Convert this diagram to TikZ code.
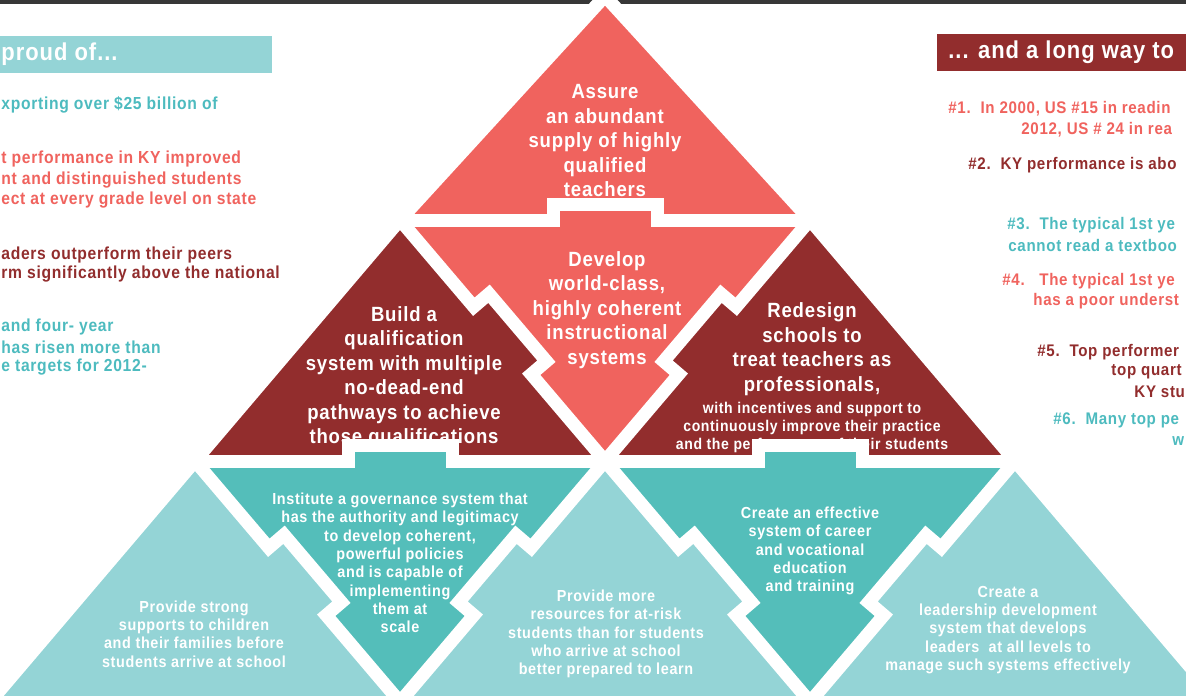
\documentclass[tikz,border=0pt]{standalone}
\usepackage{fontspec}
\newfontfamily\condfont{Liberation Sans}[FakeStretch=0.9, LetterSpace=4]
\usetikzlibrary{calc}

\definecolor{coral}{RGB}{240,99,94}
\definecolor{wine}{RGB}{146,45,45}
\definecolor{tealdk}{RGB}{84,190,186}
\definecolor{teallt}{RGB}{148,212,214}
\definecolor{tealtx}{RGB}{77,187,191}
\definecolor{barcol}{RGB}{55,55,55}

\tikzset{
  whitegap/.style={draw=white, line width=6.5pt, line cap=round},
  tabpatch/.style={line width=1.5pt},
  bigtxt/.style={text=white, align=center, inner sep=0pt,
    font=\condfont\bfseries\fontsize{10.3}{12.25}\selectfont},
  smalltxt/.style={text=white, align=center, inner sep=0pt,
    font=\condfont\bfseries\fontsize{8}{9.15}\selectfont},
  sidetxt/.style={anchor=west, inner sep=0pt,
    font=\condfont\bfseries\fontsize{8.7}{10.25}\selectfont},
  righttxt/.style={anchor=west, inner sep=0pt,
    font=\condfont\bfseries\fontsize{8.4}{10.25}\selectfont},
  headtxt/.style={anchor=west, inner sep=0pt, text=white,
    font=\condfont\bfseries\fontsize{12.2}{13}\selectfont}
}

\begin{document}
\begin{tikzpicture}[x=0.5pt, y=-0.5pt]
\useasboundingbox (0,0) rectangle (1186,695);
\clip (0,0) rectangle (1186,695);
\fill[white] (0,0) rectangle (1186,695);
\fill[barcol] (0,0) rectangle (1186,4);

% lattice points
\coordinate (top) at (605,-4);
\coordinate (p1) at (400,220);
\coordinate (q1) at (810,220);
\coordinate (p2) at (195,461);
\coordinate (q2) at (605,461);
\coordinate (r2) at (1015,461);
\coordinate (p3) at (-10,702);
\coordinate (q3) at (400,702);
\coordinate (r3) at (810,702);
\coordinate (s3) at (1220,702);

% pieces
\fill[coral] (top) -- (q1) -- (p1) -- cycle;
\fill[wine] (p1) -- (q2) -- (p2) -- cycle;
\fill[coral] (p1) -- (q1) -- (q2) -- cycle;
\fill[wine] (q1) -- (r2) -- (q2) -- cycle;
\fill[teallt] (p2) -- (q3) -- (p3) -- cycle;
\fill[tealdk] (p2) -- (q2) -- (q3) -- cycle;
\fill[teallt] (q2) -- (r3) -- (q3) -- cycle;
\fill[tealdk] (q2) -- (r2) -- (r3) -- cycle;
\fill[teallt] (r2) -- (s3) -- (r3) -- cycle;

% tabs on the flat edges
\filldraw[coral, tabpatch] (553,204) rectangle (657,222);
\filldraw[tealdk, tabpatch] (348,445) rectangle (452,463);
\filldraw[tealdk, tabpatch] (758,445) rectangle (862,463);

% tabs on the sloping edges
\foreach \a/\b/\dx/\col in {p1/q2/15.2/wine, p2/q3/15.2/teallt, q2/r3/15.2/teallt,
    q1/q2/-15.2/wine, q2/q3/-15.2/teallt, r2/r3/-15.2/teallt}{
  \filldraw[\col, tabpatch] ($(\a)!.36!(\b)$) -- ($(\a)!.36!(\b)+(\dx,-13)$)
    -- ($(\a)!.64!(\b)+(\dx,-13)$) -- ($(\a)!.64!(\b)$) -- cycle;
  \draw[whitegap] (\a) -- ($(\a)!.36!(\b)$) -- ($(\a)!.36!(\b)+(\dx,-13)$)
    -- ($(\a)!.64!(\b)+(\dx,-13)$) -- ($(\a)!.64!(\b)$) -- (\b);
}

% white gaps
\draw[whitegap] (p1) -- (553,220) -- (553,204) -- (657,204) -- (657,220) -- (q1);
\draw[whitegap] (p2) -- (348,461) -- (348,445) -- (452,445) -- (452,461) -- (q2);
\draw[whitegap] (q2) -- (758,461) -- (758,445) -- (862,445) -- (862,461) -- (r2);
\draw[whitegap] (p3) -- (p2) -- (p1) -- (top) -- (q1) -- (r2) -- (s3);

% texts in the pyramid
\node[bigtxt] (assure) at (605,141) {Assure\\an abundant\\supply of highly\\qualified\\teachers};
\node[bigtxt] (develop) at (607,310) {Develop\\world-class,\\highly coherent\\instructional\\systems};
\node[bigtxt] (build) at (404,377) {Build a\\qualification\\system with multiple\\no-dead-end\\pathways to achieve\\those qualifications};
\node[bigtxt] (redesign) at (812,349) {Redesign\\schools to\\treat teachers as\\professionals,};
\node[smalltxt, font=\condfont\bfseries\fontsize{7.8}{9}\selectfont, anchor=north] (redesignsub) at ([yshift=-3pt]redesign.south)
  {with incentives and support to\\continuously improve their practice\\and the performance of their students};
\node[smalltxt] (institute) at (400,563) {Institute a governance system that\\has the authority and legitimacy\\to develop coherent,\\powerful policies\\and is capable of\\implementing\\them at\\scale};
\node[smalltxt] (strong) at (194,634) {Provide strong\\supports to children\\and their families before\\students arrive at school};
\node[smalltxt] (resources) at (606,634) {Provide more\\resources for at-risk\\students than for students\\who arrive at school\\better prepared to learn};
\node[smalltxt] (career) at (810,551) {Create an effective\\system of career\\and vocational\\education\\and training};
\node[smalltxt] (leaders) at (1008,630) {Create a\\leadership development\\system that develops\\leaders~ at all levels to\\manage such systems effectively};

% left column
\fill[teallt] (0,36) rectangle (272,73);
\node[headtxt] (proudhd) at (1,54) {proud of...};
\node[sidetxt, text=tealtx] (l1) at (1,105) {xporting over \$25 billion of};
\node[sidetxt, text=coral] (l2a) at (1,159) {t performance in KY improved};
\node[sidetxt, text=coral] (l2b) at (1,180) {nt and distinguished students};
\node[sidetxt, text=coral] (l2c) at (1,200) {ect at every grade level on state};
\node[sidetxt, text=wine] (l3a) at (1,255) {aders outperform their peers};
\node[sidetxt, text=wine] (l3b) at (1,274) {rm significantly above the national};
\node[sidetxt, text=tealtx] (l4a) at (1,327) {and four- year};
\node[sidetxt, text=tealtx] (l4b) at (1,347) {has risen more than};
\node[sidetxt, text=tealtx] (l4c) at (1,367) {e targets for 2012-};

% right column
\fill[wine] (937,34) rectangle (1186,71);
\node[headtxt] (longhd) at (948,52) {... and a long way to};
\node[righttxt, text=coral] (r1a) at (948,109) {\#1.~~In 2000, US \#15 in readin};
\node[righttxt, text=coral] (r1b) at (1021,130) {2012, US \# 24 in rea};
\node[righttxt, text=wine] (r2a) at (968,165) {\#2.~~KY performance is abo};
\node[righttxt, text=tealtx] (r3a) at (1007,225) {\#3.~~The typical 1st ye};
\node[righttxt, text=tealtx] (r3b) at (1008,245) {cannot read a textboo};
\node[righttxt, text=coral] (r4a) at (1002,281) {\#4.~~~The typical 1st ye};
\node[righttxt, text=coral] (r4b) at (1033,301) {has a poor underst};
\node[righttxt, text=wine] (r5a) at (1037,352) {\#5.~~Top performer};
\node[righttxt, text=wine] (r5b) at (1111,372) {top quart};
\node[righttxt, text=wine] (r5c) at (1134,392) {KY stu};
\node[righttxt, text=tealtx] (r6a) at (1053,420) {\#6.~~Many top pe};
\node[righttxt, text=tealtx] (r6b) at (1172,441) {w};
\end{tikzpicture}
\end{document}
